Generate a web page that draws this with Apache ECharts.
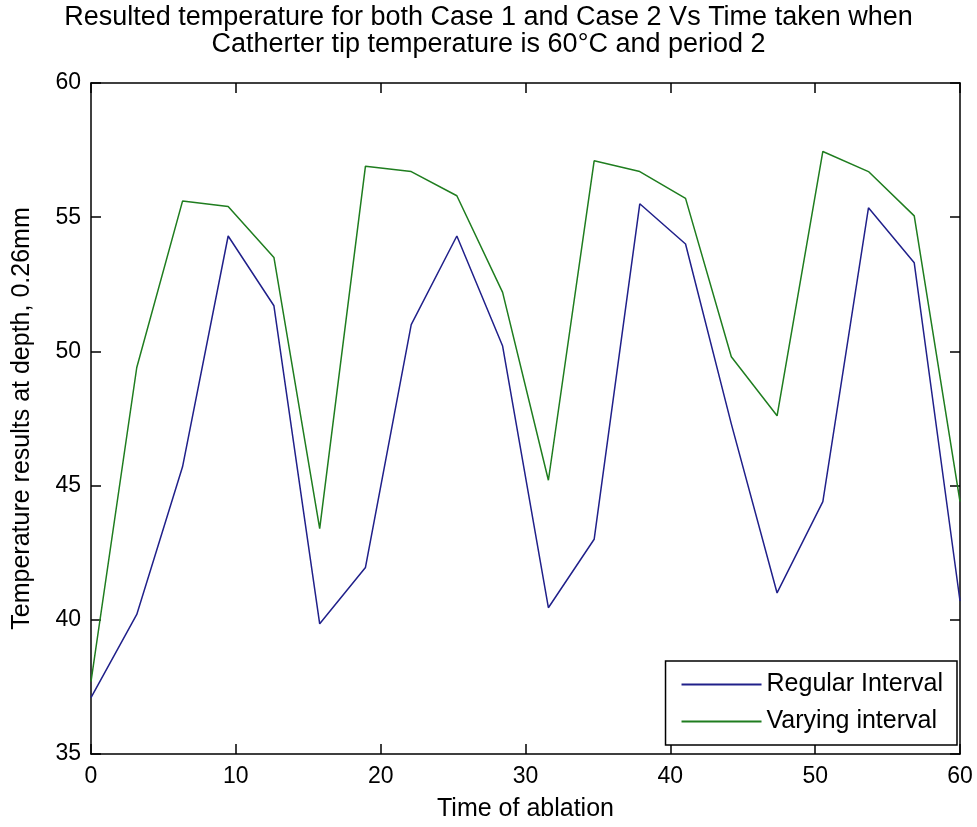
<!DOCTYPE html>
<html>
<head>
<meta charset="utf-8">
<script src="https://cdn.jsdelivr.net/npm/echarts@6/dist/echarts.min.js"></script>
<style>
html,body{margin:0;padding:0;background:#fff;}
#chart{width:977px;height:827px;}
</style>
</head>
<body>
<div id="chart"></div>
<script>
var times = [0, 3.16, 6.32, 9.47, 12.63, 15.79, 18.95, 22.11, 25.26, 28.42, 31.58, 34.74, 37.89, 41.05, 44.21, 47.37, 50.53, 53.68, 56.84, 60];
var regularInterval = [37.1, 40.2, 45.7, 54.3, 51.7, 39.85, 41.95, 51.0, 54.3, 50.2, 40.45, 43.0, 55.5, 54.0, 47.3, 41.0, 44.4, 55.35, 53.3, 40.7];
var varyingInterval = [37.7, 49.4, 55.6, 55.4, 53.5, 43.4, 56.9, 56.7, 55.8, 52.2, 45.2, 57.1, 56.7, 55.7, 49.8, 47.6, 57.45, 56.7, 55.05, 44.4];
var xTicks = [0, 10, 20, 30, 40, 50, 60];
var yTicks = [35, 40, 45, 50, 55, 60];
var seriesNames = ['Regular Interval', 'Varying interval'];
var titleLines = ['Resulted temperature for both Case 1 and Case 2 Vs Time taken when', 'Catherter tip temperature is 60\u00B0C and period 2'];
var xName = 'Time of ablation';
var yName = 'Temperature results at depth, 0.26mm';

function pairs(xs, ys) { return xs.map(function (x, i) { return [x, ys[i]]; }); }

var FONT = "'Liberation Sans', Arial, sans-serif";
var chart = echarts.init(document.getElementById('chart'), null, {renderer: 'canvas'});
var axisLineStyle = {color: '#000', width: 1.5};
var option = {
  backgroundColor: '#fff',
  animation: false,
  title: {
    text: titleLines.join('\n'),
    left: 'center',
    top: 4,
    padding: 0,
    textStyle: {fontFamily: FONT, fontSize: 27, fontWeight: 'normal', color: '#000', lineHeight: 27}
  },
  grid: {left: 91, right: 17, top: 83, bottom: 72, containLabel: false},
  legend: {
    orient: 'vertical',
    right: 20,
    bottom: 82,
    backgroundColor: '#fff',
    borderColor: '#000',
    borderWidth: 1.5,
    borderRadius: 0,
    padding: [11, 14, 11, 16],
    itemGap: 12,
    itemWidth: 80,
    itemHeight: 2,
    icon: 'rect',
    textStyle: {fontFamily: FONT, fontSize: 25, color: '#000'},
    data: seriesNames
  },
  xAxis: [{
    type: 'value', min: 0, max: 60, interval: 10,
    name: xName, nameLocation: 'middle', nameGap: 43,
    nameTextStyle: {fontFamily: FONT, fontSize: 25, color: '#000'},
    axisLine: {show: true, onZero: false, lineStyle: axisLineStyle},
    axisTick: {show: true, inside: true, length: 10, lineStyle: axisLineStyle},
    axisLabel: {fontFamily: FONT, fontSize: 23, color: '#000', margin: 11},
    splitLine: {show: false}
  }, {
    type: 'value', position: 'top', min: 0, max: 60, interval: 10,
    axisLine: {show: true, onZero: false, lineStyle: axisLineStyle},
    axisTick: {show: true, inside: true, length: 10, lineStyle: axisLineStyle},
    axisLabel: {show: false}, splitLine: {show: false}
  }],
  yAxis: [{
    type: 'value', min: 35, max: 60, interval: 5,
    name: yName, nameLocation: 'middle', nameGap: 56, nameRotate: 90,
    nameTextStyle: {fontFamily: FONT, fontSize: 25, color: '#000'},
    axisLine: {show: true, onZero: false, lineStyle: axisLineStyle},
    axisTick: {show: true, inside: true, length: 10, lineStyle: axisLineStyle},
    axisLabel: {fontFamily: FONT, fontSize: 23, color: '#000', margin: 10},
    splitLine: {show: false}
  }, {
    type: 'value', position: 'right', min: 35, max: 60, interval: 5,
    axisLine: {show: true, onZero: false, lineStyle: axisLineStyle},
    axisTick: {show: true, inside: true, length: 10, lineStyle: axisLineStyle},
    axisLabel: {show: false}, splitLine: {show: false}
  }],
  series: [{
    name: seriesNames[0], type: 'line', xAxisIndex: 0, yAxisIndex: 0,
    data: pairs(times, regularInterval),
    symbol: 'none', lineStyle: {color: '#20208a', width: 1.5}, itemStyle: {color: '#20208a'}
  }, {
    name: seriesNames[1], type: 'line', xAxisIndex: 0, yAxisIndex: 0,
    data: pairs(times, varyingInterval),
    symbol: 'none', lineStyle: {color: '#1f7d1f', width: 1.5}, itemStyle: {color: '#1f7d1f'}
  }]
};
chart.setOption(option);
</script>
</body>
</html>
